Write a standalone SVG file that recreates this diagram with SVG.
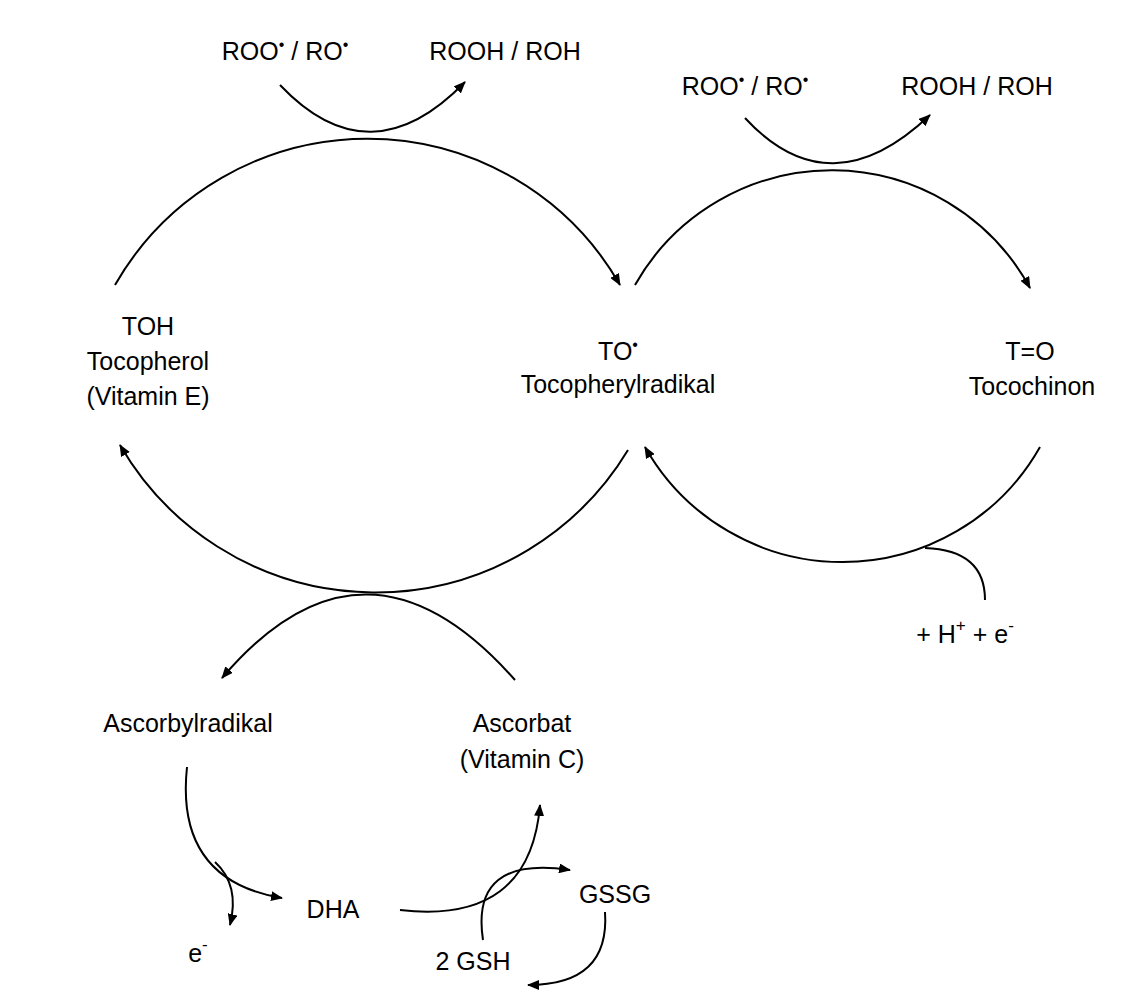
<svg xmlns="http://www.w3.org/2000/svg" width="1136" height="1000" viewBox="0 0 1136 1000">
<defs><marker id="a" markerWidth="12" markerHeight="10" refX="11" refY="5" orient="auto" markerUnits="userSpaceOnUse"><path d="M0,0 L12,5 L0,10 z" fill="#000"/></marker></defs>
<style>text{font-family:"Liberation Sans",Arial,sans-serif;font-size:25px;fill:#000;text-anchor:middle}.c{fill:none;stroke:#000;stroke-width:2}</style>
<rect width="1136" height="1000" fill="#fff"/>
<g id="connectors">
<path class="c" d="M115,285 A291,291 0 0 1 620,285" marker-end="url(#a)"/>
<path class="c" d="M635,285 A226,226 0 0 1 1030,288" marker-end="url(#a)"/>
<path class="c" d="M628,450 A295,295 0 0 1 120,445" marker-end="url(#a)"/>
<path class="c" d="M1040,447 A227,227 0 0 1 645,447" marker-end="url(#a)"/>
<path class="c" d="M280,85 Q370,180 465,82" marker-end="url(#a)"/>
<path class="c" d="M745,118 Q830,210 930,115" marker-end="url(#a)"/>
<path class="c" d="M515,680 Q365,510 222,678" marker-end="url(#a)"/>
<path class="c" d="M925,548 Q985,550 985,600"/>
<path class="c" d="M187,767 Q175,880 282,898" marker-end="url(#a)"/>
<path class="c" d="M215,862 Q240,885 230,925" marker-end="url(#a)"/>
<path class="c" d="M400,910 Q530,925 540,805" marker-end="url(#a)"/>
<path class="c" d="M483,940 Q470,855 570,870" marker-end="url(#a)"/>
<path class="c" d="M605,912 Q610,985 528,985" marker-end="url(#a)"/>
</g>
<g id="n1"><text x="285" y="60">ROO<tspan dy="-10" font-size="16">•</tspan><tspan dy="10"> / RO</tspan><tspan dy="-10" font-size="16">•</tspan></text></g>
<g id="n2"><text x="505" y="60">ROOH / ROH</text></g>
<g id="n3"><text x="745" y="95">ROO<tspan dy="-10" font-size="16">•</tspan><tspan dy="10"> / RO</tspan><tspan dy="-10" font-size="16">•</tspan></text></g>
<g id="n4"><text x="977" y="95">ROOH / ROH</text></g>
<g id="n5"><text x="148" y="335">TOH</text><text x="148" y="370">Tocopherol</text><text x="148" y="405">(Vitamin E)</text></g>
<g id="n6"><text x="618" y="360">TO<tspan dy="-10" font-size="16">•</tspan></text><text x="618" y="393">Tocopherylradikal</text></g>
<g id="n7"><text x="1030" y="360">T=O</text><text x="1032" y="395">Tocochinon</text></g>
<g id="n8"><text x="965" y="643">+ H<tspan dy="-12" font-size="17">+</tspan><tspan dy="12"> + e</tspan><tspan dy="-12" font-size="17">-</tspan></text></g>
<g id="n9"><text x="188" y="732">Ascorbylradikal</text></g>
<g id="n10"><text x="522" y="732">Ascorbat</text><text x="522" y="768">(Vitamin C)</text></g>
<g id="n11"><text x="333" y="918">DHA</text></g>
<g id="n12"><text x="198" y="962">e<tspan dy="-12" font-size="17">-</tspan></text></g>
<g id="n13"><text x="615" y="903">GSSG</text></g>
<g id="n14"><text x="473" y="970">2 GSH</text></g>
</svg>
